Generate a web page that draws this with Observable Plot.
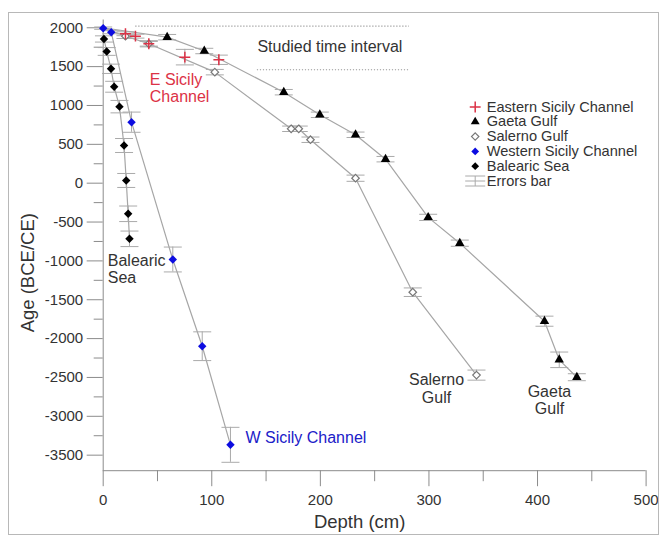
<!DOCTYPE html>
<html><head><meta charset="utf-8">
<script src="https://cdn.jsdelivr.net/npm/d3@7"></script>
<script src="https://cdn.jsdelivr.net/npm/@observablehq/plot@0.6"></script>
<style>
html,body{margin:0;padding:0;background:#fff;}
#wrap{position:relative;width:662px;height:539px;overflow:hidden;}
#frame{position:absolute;left:8px;top:12px;width:651px;height:523px;border:1px solid #b8b8b8;box-sizing:border-box;pointer-events:none;}
</style></head><body><div id="wrap"><div id="chart"></div><div id="frame"></div></div>
<script>
// ---- data (depth in cm, age in BCE/CE, error in years) ----
const eSicilyDepth = [20.5, 29.7, 42.0, 75.2, 106.5];
const eSicilyAge   = [1923, 1892, 1794, 1622, 1588];
const eSicilyErr   = [25, 25, 40, 100, 60];

const gaetaDepth = [58.9, 93.1, 166.3, 199.5, 232.4, 260.0, 299.3, 328.4, 406.4, 420.0, 436.2];
const gaetaAge   = [1879, 1701, 1171, 880, 623, 309, -440, -772, -1776, -2273, -2497];
const gaetaErr   = [35, 35, 35, 35, 35, 35, 40, 40, 65, 100, 45];

const salernoDepth = [20.5, 42.0, 102.8, 173.1, 180.1, 190.9, 232.4, 285.1, 343.8];
const salernoAge   = [1892, 1794, 1429, 700, 700, 559, 64, -1403, -2470];
const salernoErr   = [30, 30, 35, 35, 35, 35, 40, 55, 65];

const wSicilyDepth = [0, 7.4, 26.1, 64.1, 91.2, 117.2];
const wSicilyAge   = [1995, 1943, 785, -982, -2098, -3367];
const wSicilyErr   = [15, 20, 130, 160, 185, 225];

const balearicDepth = [0.7, 3.2, 7.2, 10.1, 15.0, 19.2, 21.2, 23.0, 24.2];
const balearicAge   = [1856, 1695, 1472, 1241, 985, 485, 35, -394, -716];
const balearicErr   = [40, 50, 60, 70, 80, 90, 90, 100, 100];

const surfaceDepth = 0, surfaceAge = 2000; // line start at core top

const xMajorTicks = [0, 100, 200, 300, 400, 500];
const xMinorTicks = [50, 150, 250, 350, 450];
const yMajorTicks = [2000, 1500, 1000, 500, 0, -500, -1000, -1500, -2000, -2500, -3000, -3500];
const yMinorTicks = [1750, 1250, 750, 250, -250, -750, -1250, -1750, -2250, -2750, -3250];

const studiedLines = [
  {age: 2020, from: 30, to: 282},
  {age: 1460, from: 142, to: 282}
];
const studiedLabel = [{depth: 142, age: 1750, text: "Studied time interval"}];

const leftLabels = [
  {depth: 42.9, age: 1225, text: "E Sicily\nChannel", color: "#dc3246"},
  {depth: 4.2, age: -1102, text: "Balearic\nSea", color: "#333333"},
  {depth: 131, age: -3269, text: "W Sicily Channel", color: "#2020c8"}
];
const centerLabels = [
  {depth: 307, age: -2641, text: "Salerno\nGulf", color: "#333333"},
  {depth: 411, age: -2786, text: "Gaeta\nGulf", color: "#333333"}
];

const legendLabels = ["Eastern Sicily Channel", "Gaeta Gulf", "Salerno Gulf", "Western Sicily Channel", "Balearic Sea", "Errors bar"];

// ---- build tables ----
function rows(name, depth, age, err) {
  return depth.map((d, i) => ({series: name, depth: d, age: age[i], err: err[i]}));
}
const eSicily = rows("Eastern Sicily Channel", eSicilyDepth, eSicilyAge, eSicilyErr);
const gaeta = rows("Gaeta Gulf", gaetaDepth, gaetaAge, gaetaErr);
const salerno = rows("Salerno Gulf", salernoDepth, salernoAge, salernoErr);
const wSicily = rows("Western Sicily Channel", wSicilyDepth, wSicilyAge, wSicilyErr);
const balearic = rows("Balearic Sea", balearicDepth, balearicAge, balearicErr);
const allPts = [...eSicily, ...gaeta, ...salerno, ...wSicily, ...balearic];

const surf = name => ({series: name, depth: surfaceDepth, age: surfaceAge});
const lineData = [
  surf("Gaeta Gulf"), ...gaeta,
  surf("Salerno Gulf"), ...salerno,
  ...wSicily,
  ...balearic
];

const RED = "#dc3246", BLUE = "#0c0ce0", GRAY = "#a6a6a6", AX = "#8c8c8c", TXT = "#333333";

const capSymbol = {draw(ctx) { ctx.moveTo(-9, 0); ctx.lineTo(9, 0); }};
const errSymbol = {draw(ctx) {
  ctx.moveTo(-10, -5); ctx.lineTo(10, -5);
  ctx.moveTo(-10, 5); ctx.lineTo(10, 5);
  ctx.moveTo(0, -5); ctx.lineTo(0, 5);
  ctx.moveTo(-10, 0); ctx.lineTo(10, 0);
}};

const legendSyms = [
  {symbol: "plus", r: 3.6, fill: "none", stroke: RED, strokeWidth: 1.5},
  {symbol: "triangle", r: 3.3, fill: "black", stroke: "none"},
  {symbol: "diamond2", r: 3.3, fill: "white", stroke: "#777", strokeWidth: 1.2},
  {symbol: "diamond2", r: 3.5, fill: BLUE, stroke: "none"},
  {symbol: "diamond2", r: 3.5, fill: "black", stroke: "none"},
  {symbol: errSymbol, r: 3, fill: "none", stroke: "#aaa", strokeWidth: 1}
];

const FONT = "Liberation Sans, Arial, sans-serif";
const legendMarks = [];
legendLabels.forEach((lab, i) => {
  const dy = 87 + i * 14.8;
  legendMarks.push(Plot.dot([lab], {frameAnchor: "top-left", dx: 372, dy, ...legendSyms[i]}));
  legendMarks.push(Plot.text([lab], {frameAnchor: "top-left", dx: 383.5, dy, text: d => d,
    textAnchor: "start", lineAnchor: "middle", fontSize: 14.6, fill: TXT, fontFamily: FONT}));
});

const fmt = d => String(d);

const chart = Plot.plot({
  width: 662, height: 539,
  marginLeft: 102.7, marginRight: 16.4, marginTop: 19.5, marginBottom: 68.8,
  style: {fontFamily: FONT, fontSize: "15px", color: TXT, background: "transparent"},
  x: {domain: [0, 500]},
  y: {domain: [-3700, 2100]},
  marks: [
    Plot.axisY(yMajorTicks, {tickSize: 16, tickPadding: 4, fontSize: 15, tickFormat: fmt, label: null, stroke: AX, fill: TXT}),
    Plot.axisY(yMinorTicks, {tickSize: 9, tickFormat: () => "", label: null, stroke: AX}),
    Plot.axisX(xMajorTicks, {tickSize: 16, tickPadding: 8, fontSize: 15, tickFormat: fmt, label: null, stroke: AX, fill: TXT}),
    Plot.axisX(xMinorTicks, {tickSize: 11, tickFormat: () => "", label: null, stroke: AX}),
    Plot.ruleX([0], {stroke: AX}),
    Plot.ruleY([-3700], {stroke: AX}),
    Plot.text(["Depth (cm)"], {frameAnchor: "bottom", dx: -15, dy: 51, lineAnchor: "middle", fontSize: 18.5, fill: TXT, fontFamily: FONT}),
    Plot.text(["Age (BCE/CE)"], {frameAnchor: "left", dx: -75, dy: 87, rotate: -90, lineAnchor: "middle", fontSize: 18.5, fill: TXT, fontFamily: FONT}),
    // studied interval
    Plot.ruleY(studiedLines, {y: "age", x1: "from", x2: "to", stroke: "#999", strokeWidth: 1.2, strokeDasharray: "1.2,1.8"}),
    Plot.text(studiedLabel, {x: "depth", y: "age", text: "text", textAnchor: "start", fontSize: 16, fill: TXT, fontFamily: FONT}),
    // connecting lines
    Plot.line(lineData, {x: "depth", y: "age", z: "series", stroke: GRAY, strokeWidth: 1.2}),
    // error bars
    Plot.ruleX(allPts, {x: "depth", y1: d => d.age - d.err, y2: d => d.age + d.err, stroke: "#aaa", strokeWidth: 1}),
    Plot.dot(allPts, {x: "depth", y: d => d.age - d.err, symbol: capSymbol, r: 3, fill: "none", stroke: "#aaa", strokeWidth: 1}),
    Plot.dot(allPts, {x: "depth", y: d => d.age + d.err, symbol: capSymbol, r: 3, fill: "none", stroke: "#aaa", strokeWidth: 1}),
    // points
    Plot.dot(salerno, {x: "depth", y: "age", symbol: "diamond2", r: 3.4, fill: "white", stroke: "#777", strokeWidth: 1.2}),
    Plot.dot(gaeta, {x: "depth", y: "age", symbol: "triangle", r: 3.5, fill: "black", stroke: "none"}),
    Plot.dot(eSicily, {x: "depth", y: "age", symbol: "plus", r: 3.6, fill: "none", stroke: RED, strokeWidth: 1.5}),
    Plot.dot(balearic, {x: "depth", y: "age", symbol: "diamond2", r: 3.8, fill: "black", stroke: "none"}),
    Plot.dot(wSicily, {x: "depth", y: "age", symbol: "diamond2", r: 3.8, fill: BLUE, stroke: "none"}),
    // series labels
    Plot.text(leftLabels, {x: "depth", y: "age", text: "text", fill: d => d.color, textAnchor: "start",
      lineAnchor: "middle", lineHeight: 1.1, fontSize: 16, fontFamily: FONT}),
    Plot.text(centerLabels, {x: "depth", y: "age", text: "text", fill: d => d.color, textAnchor: "middle",
      lineAnchor: "middle", lineHeight: 1.1, fontSize: 16, fontFamily: FONT}),
    ...legendMarks
  ]
});
document.getElementById("chart").appendChild(chart);
</script>
</body></html>
